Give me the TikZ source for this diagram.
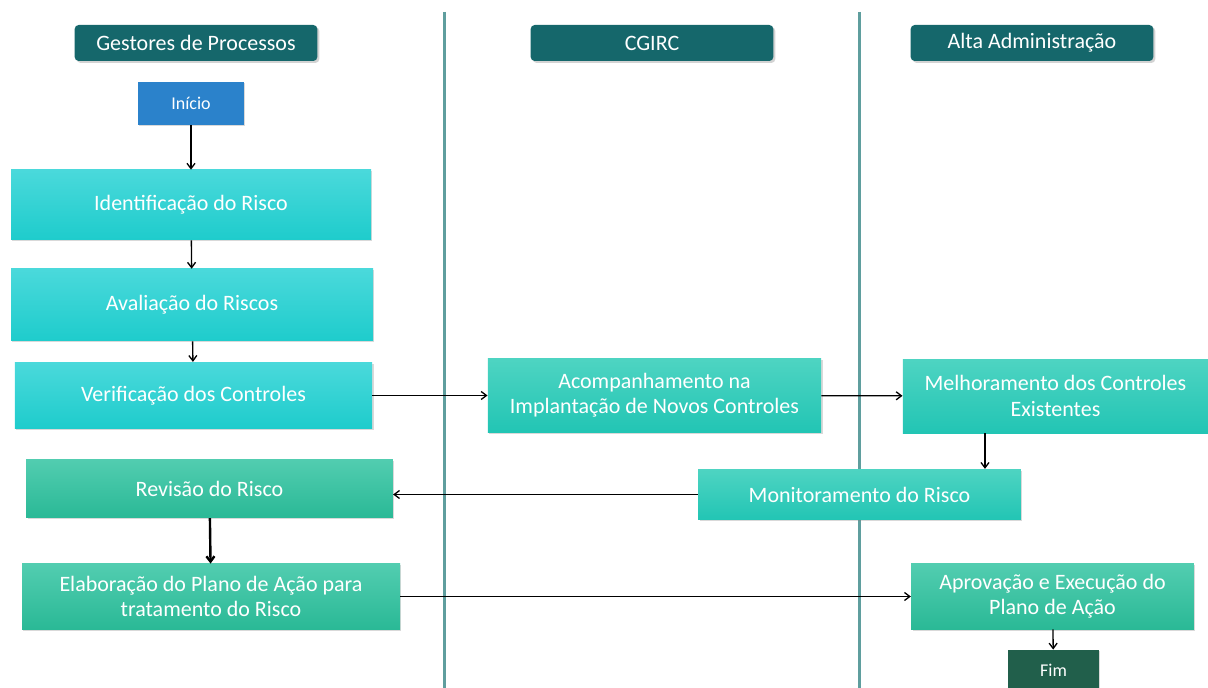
\documentclass[tikz,border=0pt]{standalone}
\usepackage{fontspec}
\setmainfont{Carlito}
\usepackage{tikz}
\usetikzlibrary{arrows.meta,shadows}

\definecolor{headteal}{RGB}{21,103,107}
\definecolor{laneline}{RGB}{95,158,158}
\definecolor{startblue}{RGB}{43,130,203}
\definecolor{endgreen}{RGB}{33,95,75}
\definecolor{cyanTop}{RGB}{74,217,219}
\definecolor{cyanBot}{RGB}{30,204,204}
\definecolor{aquaTop}{RGB}{78,212,194}
\definecolor{aquaBot}{RGB}{34,197,180}
\definecolor{mintTop}{RGB}{82,205,176}
\definecolor{mintBot}{RGB}{42,185,150}

\tikzset{
  lanehead/.style={rounded corners=3pt, fill=headteal, text=white, font=\fontsize{16.5}{19}\selectfont,
    minimum width=182pt, minimum height=27pt, drop shadow={opacity=0.35,shadow xshift=1.5pt,shadow yshift=-1.5pt}},
  stepcyan/.style={top color=cyanTop, bottom color=cyanBot, text=white, align=center,
    font=\fontsize{16.5}{19}\selectfont, drop shadow={opacity=0.3,shadow xshift=1pt,shadow yshift=-1pt}},
  stepaqua/.style={stepcyan, top color=aquaTop, bottom color=aquaBot},
  stepmint/.style={stepcyan, top color=mintTop, bottom color=mintBot},
  terminal/.style={text=white, font=\fontsize{13.5}{15}\selectfont, minimum width=79.5pt, minimum height=32pt,
    drop shadow={opacity=0.3,shadow xshift=1pt,shadow yshift=-1pt}},
  flow/.style={-{Straight Barb[length=4pt,width=6pt]}, line width=1pt},
}

\begin{document}
\begin{tikzpicture}[x=0.75pt,y=0.75pt,yscale=-1]
\useasboundingbox (0,0) rectangle (1208,688);

%Lanes
\draw [laneline, line width=2.25pt] (444,12) -- (444,688) ;
\draw [laneline, line width=2.25pt] (859,12) -- (859,688) ;

%Lane headers
\node [lanehead] (hGestores) at (196,43) {Gestores de Processos};
\node [lanehead] (hCgirc) at (652,43) {CGIRC};
\node [lanehead] (hAlta) at (1032,43) {Alta Administração};

%Start / end
\node [terminal, fill=startblue] (inicio) at (191,103.5) {Início};
\node [terminal, fill=endgreen, minimum width=68pt, minimum height=31pt] (fim) at (1053.5,670.5) {Fim};

%Gestores de Processos
\node [stepcyan, minimum width=270pt, minimum height=52.5pt] (identif) at (191,205) {Identificação do Risco};
\node [stepcyan, minimum width=271.5pt, minimum height=54pt] (avalia) at (192,305) {Avaliação do Riscos};
\node [stepcyan, minimum width=268pt, minimum height=50pt] (verif) at (193.5,395.5) {Verificação dos Controles};
\node [stepmint, minimum width=275pt, minimum height=44pt] (revisao) at (209.5,488.5) {Revisão do Risco};
\node [stepmint, minimum width=283.5pt, minimum height=49pt] (elabora) at (211,596.5) {Elaboração do Plano de Ação para\\tratamento do Risco};

%CGIRC
\node [stepaqua, minimum width=250pt, minimum height=55pt] (acomp) at (654.5,395.5) {Acompanhamento na\\Implantação de Novos Controles};
\node [stepaqua, minimum width=242pt, minimum height=38pt] (monit) at (859.5,494.5) {Monitoramento do Risco};

%Alta Administração
\node [stepaqua, minimum width=229pt, minimum height=55.5pt] (melhora) at (1055.5,396) {Melhoramento dos Controles\\Existentes};
\node [stepmint, minimum width=212pt, minimum height=49pt] (aprova) at (1052.5,596.5) {Aprovação e Execução do\\Plano de Ação};

%Connectors
\coordinate (drop) at (985,0);
\draw [flow] (inicio) -- (identif) ;
\draw [flow] (identif) -- (avalia) ;
\draw [flow] (avalia) -- (verif) ;
\draw [flow] (verif) -- (acomp) ;
\draw [flow] (acomp) -- (melhora) ;
\draw [flow] (drop |- melhora.south) -- (drop |- monit.north) ;
\draw [flow] (monit.west) -- (monit.west -| revisao.east) ;
\draw [flow, line width=1.8pt] (revisao) -- (elabora) ;
\draw [flow] (elabora) -- (aprova) ;
\draw [flow] (aprova) -- (fim) ;

\end{tikzpicture}
\end{document}
